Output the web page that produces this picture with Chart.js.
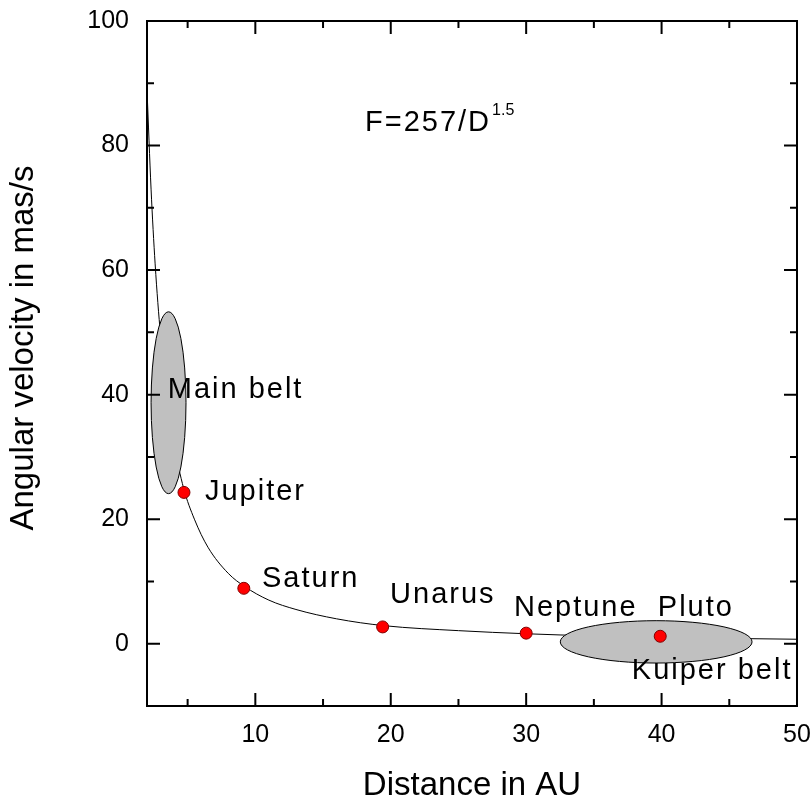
<!DOCTYPE html>
<html lang="en">
<head>
<meta charset="UTF-8">
<title>Angular velocity vs distance</title>
<script src="https://cdn.jsdelivr.net/npm/chart.js"></script>
<style>
    html, body { margin: 0; padding: 0; background: #fff; }
    #wrap { width: 812px; height: 802px; }
</style>
</head>
<body>
<div id="wrap"><canvas id="chart"></canvas></div>
<script>
    // curve F = 257 / D^1.5
    const curveX = [2, 2.3, 2.6, 3, 3.5, 4, 4.7, 5.5, 6.5, 8, 9.2, 11, 13, 16, 19.5, 25, 30, 35, 40, 45, 50];
    const curveY = [89, 73, 61, 49.5, 39, 32, 25, 20, 15.5, 11.3, 9.2, 7, 5.5, 4, 2.9, 2.1, 1.6, 1.25, 1.0, 0.85, 0.72];

    const planetNames = ['Jupiter', 'Saturn', 'Unarus', 'Neptune', 'Pluto'];
    const planetX = [4.73, 9.15, 19.4, 30.0, 39.9];
    const planetY = [24.3, 8.9, 2.7, 1.7, 1.2];

    const beltNames = ['Main belt', 'Kuiper belt'];
    const beltX = [3.59, 39.6];
    const beltY = [38.7, 0.3];
    const beltHalfX = [1.29, 7.08];
    const beltHalfY = [14.6, 3.4];

    const labelText = ['Main belt', 'Jupiter', 'Saturn', 'Unarus', 'Neptune', 'Pluto', 'Kuiper belt'];
    const labelX = [3.53, 6.28, 10.49, 19.95, 29.1, 39.72, 37.8];
    const labelY = [40.7, 24.4, 10.4, 7.8, 5.7, 5.7, -4.4];

    const formulaText = 'F=257/D';
    const formulaSup = '1.5';
    const formulaX = 18.1;
    const formulaY = 83.6;

    const xTicks = [10, 20, 30, 40, 50];
    const xMinorTicks = [5, 15, 25, 35, 45];
    const yTicks = [0, 20, 40, 60, 80, 100];
    const yMinorTicks = [10, 30, 50, 70, 90];

    const xTitle = 'Distance in AU';
    const yTitle = 'Angular velocity in mas/s';

    const FONT = "'Liberation Sans', Arial, sans-serif";

    const overlay = {
        id: 'overlay',
        afterDatasetDraw(chart, args) {
            // belts go over the curve but under the planet dots
            if (args.index !== 0) return;
            const {ctx, scales: {x, y}} = chart;
            ctx.save();
            beltX.forEach((cx, i) => {
                const px = x.getPixelForValue(cx);
                const py = y.getPixelForValue(beltY[i]);
                const rx = Math.abs(x.getPixelForValue(cx + beltHalfX[i]) - px);
                const ry = Math.abs(y.getPixelForValue(beltY[i] + beltHalfY[i]) - py);
                ctx.beginPath();
                ctx.ellipse(px, py, rx, ry, 0, 0, Math.PI * 2);
                ctx.fillStyle = '#c0c0c0';
                ctx.fill();
                ctx.lineWidth = 1;
                ctx.strokeStyle = '#000';
                ctx.stroke();
            });
            ctx.restore();
        },
        afterDraw(chart) {
            const {ctx, chartArea: a, scales: {x, y}} = chart;
            ctx.save();
            ctx.strokeStyle = '#000';
            ctx.lineWidth = 2;
            ctx.strokeRect(a.left, a.top, a.right - a.left, a.bottom - a.top);

            const tick = (v, len, horiz) => {
                ctx.beginPath();
                if (horiz) {
                    const px = x.getPixelForValue(v);
                    ctx.moveTo(px, a.bottom); ctx.lineTo(px, a.bottom - len);
                    ctx.moveTo(px, a.top); ctx.lineTo(px, a.top + len);
                } else {
                    const py = y.getPixelForValue(v);
                    ctx.moveTo(a.left, py); ctx.lineTo(a.left + len, py);
                    ctx.moveTo(a.right, py); ctx.lineTo(a.right - len, py);
                }
                ctx.stroke();
            };
            xTicks.forEach(v => tick(v, 13, true));
            xMinorTicks.forEach(v => tick(v, 7, true));
            yTicks.forEach(v => tick(v, 13, false));
            yMinorTicks.forEach(v => tick(v, 7, false));

            ctx.fillStyle = '#000';

            // y title sits a little above the middle of the axis in the original
            ctx.save();
            ctx.translate(24, 348);
            ctx.rotate(-Math.PI / 2);
            ctx.textAlign = 'center';
            ctx.textBaseline = 'middle';
            ctx.font = '33px ' + FONT;
            ctx.fillText(yTitle, 0, 0);
            ctx.restore();

            // text labels
            ctx.textAlign = 'left';
            ctx.textBaseline = 'middle';
            ctx.font = '29px ' + FONT;
            ctx.letterSpacing = '2px';
            labelText.forEach((t, i) => {
                ctx.fillText(t, x.getPixelForValue(labelX[i]), y.getPixelForValue(labelY[i]));
            });
            const fx = x.getPixelForValue(formulaX);
            const fy = y.getPixelForValue(formulaY);
            ctx.fillText(formulaText, fx, fy);
            const w = ctx.measureText(formulaText).width;
            ctx.font = '16px ' + FONT;
            ctx.letterSpacing = '0px';
            ctx.textBaseline = 'alphabetic';
            ctx.fillText(formulaSup, fx + w + 1, fy - 8);
            ctx.restore();
        }
    };

    new Chart(document.getElementById('chart'), {
        type: 'scatter',
        data: {
            datasets: [{
                label: 'F=257/D^1.5',
                data: curveX.map((v, i) => ({x: v, y: curveY[i]})),
                showLine: true,
                borderColor: '#000',
                borderWidth: 1,
                pointRadius: 0,
                cubicInterpolationMode: 'monotone',
                order: 2
            }, {
                label: 'Planets',
                data: planetX.map((v, i) => ({x: v, y: planetY[i], name: planetNames[i]})),
                showLine: false,
                pointRadius: 6,
                pointBackgroundColor: '#ff0000',
                pointBorderColor: '#800000',
                pointBorderWidth: 1,
                order: 1
            }]
        },
        options: {
            responsive: true,
            maintainAspectRatio: false,
            animation: false,
            layout: {padding: {left: 0, top: 21, right: 15, bottom: 0}},
            plugins: {legend: {display: false}, tooltip: {enabled: false}},
            scales: {
                x: {
                    type: 'linear',
                    min: 2,
                    max: 50,
                    afterBuildTicks: s => { s.ticks = xTicks.map(v => ({value: v})); },
                    // fixed box; tick labels may hang past the plot edge
                    afterFit: s => { s.height = 96; s.paddingLeft = 0; s.paddingRight = 0; },
                    grid: {display: false, drawTicks: false},
                    border: {display: false},
                    ticks: {autoSkip: false, maxRotation: 0, padding: 14, color: '#000',
                        font: {family: FONT, size: 25, lineHeight: 1.2}},
                    title: {display: true, text: xTitle, color: '#000',
                        font: {family: FONT, size: 33, lineHeight: 1}, padding: {top: 0, bottom: 0}}
                },
                y: {
                    type: 'linear',
                    min: -10,
                    max: 100,
                    afterBuildTicks: s => { s.ticks = yTicks.map(v => ({value: v})); },
                    afterFit: s => { s.width = 147; s.paddingTop = 0; s.paddingBottom = 0; },
                    grid: {display: false, drawTicks: false},
                    border: {display: false},
                    ticks: {autoSkip: false, padding: 18, color: '#000',
                        font: {family: FONT, size: 25, lineHeight: 1.2}},
                    title: {display: false}
                }
            }
        },
        plugins: [overlay]
    });
</script>
</body>
</html>
